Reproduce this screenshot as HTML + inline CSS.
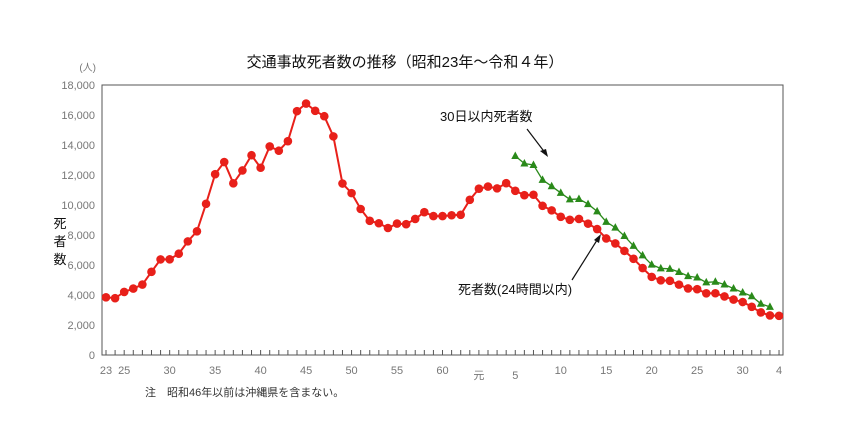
<!DOCTYPE html><html><head><meta charset="utf-8"><style>
html,body{margin:0;padding:0;background:#fff}
text{font-family:"Liberation Sans","Noto Sans CJK JP",sans-serif}
</style></head><body>
<svg id="s" width="844" height="435" xmlns="http://www.w3.org/2000/svg">
<text x="405" y="67" font-size="15" text-anchor="middle" fill="#111">交通事故死者数の推移（昭和23年～令和４年）</text>
<text x="96" y="71" font-size="10" text-anchor="end" fill="#777">(人)</text>
<text x="60" y="228" font-size="13" text-anchor="middle" fill="#111">死</text>
<text x="60" y="246" font-size="13" text-anchor="middle" fill="#111">者</text>
<text x="60" y="264" font-size="13" text-anchor="middle" fill="#111">数</text>
<text x="145" y="396" font-size="11" fill="#333">注　昭和46年以前は沖縄県を含まない。</text>
<rect x="102" y="85" width="681" height="270" fill="none" stroke="#555" stroke-width="1"/>
<g id="g"></g>
<text x="440" y="121" font-size="13" fill="#111">30日以内死者数</text>
<line x1="527" y1="129" x2="546" y2="154" stroke="#111" stroke-width="1.2"/>
<polygon points="548,157 540,151 546,149" fill="#111"/>
<text x="458" y="294" font-size="13" fill="#111">死者数(24時間以内)</text>
<line x1="572" y1="280" x2="599" y2="237" stroke="#111" stroke-width="1.2"/>
<polygon points="601,234 599,243 594,240" fill="#111"/>
</svg>
<script>
var r=[3848,3790,4202,4429,4696,5544,6374,6379,6751,7575,8248,10079,12055,12865,11445,12301,13318,12484,13904,13618,14256,16257,16765,16278,15918,14574,11432,10792,9734,8945,8783,8466,8760,8719,9073,9520,9262,9261,9317,9347,10344,11086,11227,11109,11452,10945,10653,10684,9943,9642,9214,9012,9073,8757,8396,7768,7436,6937,6415,5796,5209,4979,4948,4691,4438,4388,4113,4117,3904,3694,3532,3215,2839,2636,2610];
var g30=[13269,12768,12670,11674,11254,10805,10372,10403,10060,9575,8877,8492,7931,7272,6639,6023,5772,5745,5535,5261,5165,4838,4885,4698,4431,4166,3920,3416,3205];
function X(i){return 106+i*9.095}function Y(v){return 355-v*270/18000}
var h='';
for(var k=0;k<=9;k++){var y=Y(k*2000);h+='<text x="95" y="'+(y+4)+'" font-size="11" text-anchor="end" fill="#777">'+(k?(k*2000).toLocaleString('en-US'):'0')+'</text>';}
for(var i=0;i<75;i++){h+='<line x1="'+X(i)+'" y1="350" x2="'+X(i)+'" y2="355" stroke="#555" stroke-width="1"/>';}
var lab=[[0,'23'],[2,'25'],[7,'30'],[12,'35'],[17,'40'],[22,'45'],[27,'50'],[32,'55'],[37,'60'],[41,'元'],[45,'5'],[50,'10'],[55,'15'],[60,'20'],[65,'25'],[70,'30'],[74,'4']];
lab.forEach(function(l){h+='<text x="'+X(l[0])+'" y="'+(l[1]=='元'||l[1]=='5'?379:374)+'" font-size="11" text-anchor="middle" fill="#777">'+l[1]+'</text>';});
var p=r.map(function(v,i){return X(i)+','+Y(v)}).join(' ');
h+='<polyline points="'+p+'" fill="none" stroke="#e8201a" stroke-width="2"/>';
r.forEach(function(v,i){h+='<circle cx="'+X(i)+'" cy="'+Y(v)+'" r="4.3" fill="#e8201a"/>';});
var q=g30.map(function(v,i){return X(i+45)+','+Y(v)}).join(' ');
h+='<polyline points="'+q+'" fill="none" stroke="#2a8a1a" stroke-width="1.3"/>';
g30.forEach(function(v,i){var x=X(i+45),y=Y(v);h+='<polygon points="'+x+','+(y-4.5)+' '+(x-4)+','+(y+3)+' '+(x+4)+','+(y+3)+'" fill="#2a8a1a"/>';});
document.getElementById('g').innerHTML=h;
</script>
</body></html>
